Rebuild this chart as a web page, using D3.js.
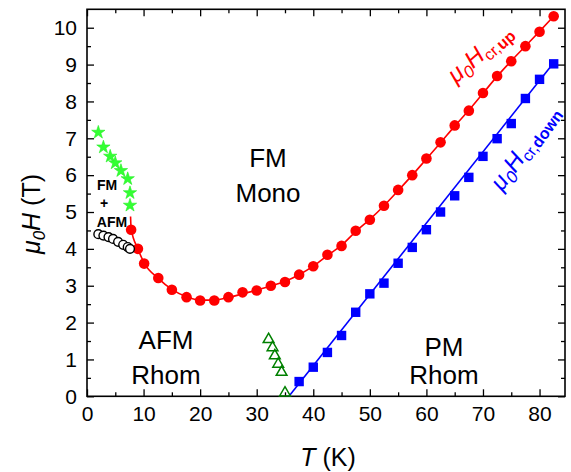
<!DOCTYPE html>
<html><head><meta charset="utf-8">
<script src="https://cdn.jsdelivr.net/npm/d3@7/dist/d3.min.js"></script>
<style>body{margin:0;background:#fff}svg{display:block;font-family:"Liberation Sans",Arial,sans-serif}</style>
</head><body><svg id="c" width="571" height="472"></svg>
<script>
// ---- data ----
const upT = [7.8, 9.0, 10.1, 12.6, 15.0, 17.6, 20.0, 22.5, 25.0, 27.5, 30.0, 32.5, 35.0, 37.5, 40.0, 42.5, 45.0, 47.5, 50.0, 52.5, 55.0, 57.5, 60.0, 62.5, 65.0, 67.5, 70.0, 72.5, 75.0, 77.5, 80.0, 82.5];
const upH = [4.52, 4.0, 3.6, 3.21, 2.89, 2.69, 2.6, 2.6, 2.69, 2.82, 2.87, 3.0, 3.1, 3.3, 3.53, 3.84, 4.08, 4.49, 4.79, 5.17, 5.6, 6.0, 6.45, 6.89, 7.35, 7.75, 8.23, 8.69, 9.09, 9.5, 9.89, 10.31];
const upFitT = [7.7, 7.8, 9.0, 10.1, 12.6, 15.0, 17.6, 20.0, 22.5, 25.0, 27.5, 30.0, 32.5, 35.0, 37.5, 40.0, 42.5, 45.0, 47.5, 50.0, 52.5, 55.0, 57.5, 60.0, 62.5, 65.0, 67.5, 70.0, 72.5, 75.0, 77.5, 80.0, 82.5];
const upFitH = [4.88, 4.55, 4.0, 3.62, 3.2, 2.9, 2.7, 2.61, 2.61, 2.68, 2.78, 2.88, 2.99, 3.12, 3.3, 3.53, 3.82, 4.1, 4.47, 4.8, 5.17, 5.58, 6.0, 6.44, 6.88, 7.33, 7.76, 8.22, 8.68, 9.1, 9.5, 9.9, 10.31];
const downT = [37.5, 40.0, 42.5, 45.0, 47.5, 50.0, 52.5, 55.0, 57.5, 60.0, 62.5, 65.0, 67.5, 70.0, 72.5, 75.0, 77.5, 80.0, 82.5];
const downH = [0.4, 0.79, 1.19, 1.65, 2.28, 2.78, 3.07, 3.61, 4.04, 4.52, 5.0, 5.44, 5.94, 6.51, 6.99, 7.4, 8.08, 8.6, 9.02];
const downFitT = [35.7, 82.5];
const downFitH = [0.0, 9.05];
const triT = [32.1, 32.8, 33.2, 33.8, 34.4, 35.0];
const triH = [1.57, 1.35, 1.13, 0.9, 0.68, 0.12];
const starT = [2.0, 2.9, 4.1, 5.0, 6.0, 7.2, 7.6, 7.6];
const starH = [7.16, 6.76, 6.51, 6.33, 6.12, 5.9, 5.52, 5.18];
const circT = [2.0, 2.9, 3.8, 4.6, 5.5, 6.4, 7.2, 7.6];
const circH = [4.40, 4.36, 4.32, 4.27, 4.19, 4.11, 4.05, 4.0];
const xMajor = [0, 10, 20, 30, 40, 50, 60, 70, 80];
const xMinor = [5, 15, 25, 35, 45, 55, 65, 75];
const yMajor = [0, 1, 2, 3, 4, 5, 6, 7, 8, 9, 10];
const yMinor = [0.5, 1.5, 2.5, 3.5, 4.5, 5.5, 6.5, 7.5, 8.5, 9.5];

// ---- layout ----
const L = 87, R = 565, TOP = 9.3, B = 396.3;
const x = d3.scaleLinear().domain([0, 84.5]).range([L, R]);
const y = d3.scaleLinear().domain([0, 10.5]).range([B, TOP]);
const svg = d3.select("#c");
const zip = (a, b) => a.map((v, i) => [v, b[i]]);

function ax(gen, tr, vals, size, labels) {
  const g = svg.append("g").attr("transform", tr)
    .call(gen.tickValues(vals).tickSizeInner(size).tickSizeOuter(0).tickPadding(labels ? 10 : 0)
      .tickFormat(labels ? d3.format("d") : ""));
  g.select(".domain").remove();
  g.selectAll("line").attr("stroke", "#000").attr("stroke-width", 1.3);
  g.selectAll("text").attr("fill", "#000").attr("font-size", 21).attr("font-family", "Liberation Sans, Arial, sans-serif");
  return g;
}
ax(d3.axisBottom(x), `translate(0,${B})`, xMajor, -7, true);
ax(d3.axisBottom(x), `translate(0,${B})`, xMinor, -4, false);
ax(d3.axisTop(x), `translate(0,${TOP})`, xMajor, -7, false);
ax(d3.axisTop(x), `translate(0,${TOP})`, xMinor, -4, false);
ax(d3.axisLeft(y), `translate(${L},0)`, yMajor, -7, true);
ax(d3.axisLeft(y), `translate(${L},0)`, yMinor, -4, false);
ax(d3.axisRight(y), `translate(${R},0)`, yMajor, -7, false);
ax(d3.axisRight(y), `translate(${R},0)`, yMinor, -4, false);

svg.append("rect").attr("x", L).attr("y", TOP).attr("width", R - L).attr("height", B - TOP)
  .attr("fill", "none").attr("stroke", "#000").attr("stroke-width", 1.6);

const line = d3.line().x(d => x(d[0])).y(d => y(d[1]));

// red
svg.append("path").datum(zip(upFitT, upFitH)).attr("d", line.curve(d3.curveMonotoneX))
  .attr("fill", "none").attr("stroke", "#ff0000").attr("stroke-width", 1.6);
svg.append("g").selectAll("circle").data(zip(upT, upH)).join("circle")
  .attr("cx", d => x(d[0])).attr("cy", d => y(d[1])).attr("r", 5.3).attr("fill", "#ff0000");

// blue
svg.append("path").datum(zip(downFitT, downFitH)).attr("d", d3.line().x(d => x(d[0])).y(d => y(d[1])))
  .attr("fill", "none").attr("stroke", "#0000ff").attr("stroke-width", 1.6);
svg.append("g").selectAll("rect").data(zip(downT, downH)).join("rect")
  .attr("x", d => x(d[0]) - 4.7).attr("y", d => y(d[1]) - 4.7).attr("width", 9.4).attr("height", 9.4).attr("fill", "#0000ff");

// triangles
svg.append("g").selectAll("path").data(zip(triT, triH)).join("path")
  .attr("transform", d => `translate(${x(d[0])},${y(d[1]) + 1})`)
  .attr("d", d3.symbol().type(d3.symbolTriangle).size(50))
  .attr("fill", "none").attr("stroke", "#008000").attr("stroke-width", 1.5);

// stars
svg.append("g").selectAll("path").data(zip(starT, starH)).join("path")
  .attr("transform", d => `translate(${x(d[0])},${y(d[1])})`)
  .attr("d", d3.symbol().type(d3.symbolStar).size(55))
  .attr("fill", "#33ff33").attr("stroke", "#22ee22").attr("stroke-width", 0.6);

// open circles
svg.append("g").selectAll("circle").data(zip(circT, circH)).join("circle")
  .attr("cx", d => x(d[0])).attr("cy", d => y(d[1])).attr("r", 4.4)
  .attr("fill", "#fff").attr("stroke", "#000").attr("stroke-width", 1.4);

// region labels
function lab(txt, cx, by, fs, w) {
  svg.append("text").attr("x", cx).attr("y", by).attr("text-anchor", "middle")
    .attr("font-size", fs).attr("font-weight", w || "normal").attr("fill", "#000").text(txt);
}
lab("FM", 268, 167, 26); lab("Mono", 268, 202, 26);
lab("AFM", 166, 349, 26); lab("Rhom", 166, 384, 26);
lab("PM", 444, 356, 26); lab("Rhom", 444, 384, 26);
lab("FM", 107, 190, 14, "bold"); lab("+", 104, 208, 14, "bold"); lab("AFM", 112, 227, 14, "bold");

// axis titles
const xt = svg.append("text").attr("x", 328).attr("y", 466).attr("text-anchor", "middle").attr("font-size", 25).attr("fill", "#000");
xt.append("tspan").attr("font-style", "italic").text("T");
xt.append("tspan").text(" (K)");
const yt = svg.append("text").attr("transform", "translate(40,214) rotate(-90)").attr("text-anchor", "middle").attr("font-size", 25).attr("fill", "#000");
yt.append("tspan").attr("font-style", "italic").text("μ");
yt.append("tspan").attr("font-size", 17).attr("dy", 5).attr("font-style", "italic").text("0");
yt.append("tspan").attr("dy", -5).attr("font-style", "italic").text("H");
yt.append("tspan").text(" (T)");

// curve labels (CSS rotation on a wrapping group)
function clab(px, py, ang, col, sub) {
  const g = svg.append("g")
    .style("transform", `translate(${px}px, ${py}px) rotate(${ang}deg)`)
    .style("transform-origin", "0 0");
  const t = g.append("text").attr("font-size", 24).attr("fill", col);
  t.append("tspan").attr("font-style", "italic").text("μ");
  t.append("tspan").attr("font-size", 17).attr("dy", 5).attr("font-style", "italic").text("0");
  t.append("tspan").attr("dy", -5).attr("font-style", "italic").text("H");
  t.append("tspan").attr("font-size", 16).attr("dy", 5).text("cr,");
  t.append("tspan").attr("font-size", 16).attr("font-weight", "bold").text(sub);
}
clab(456, 84, -41, "#ff0000", "up");
clab(502, 192, -54, "#0000ff", "down");
</script></body></html>
